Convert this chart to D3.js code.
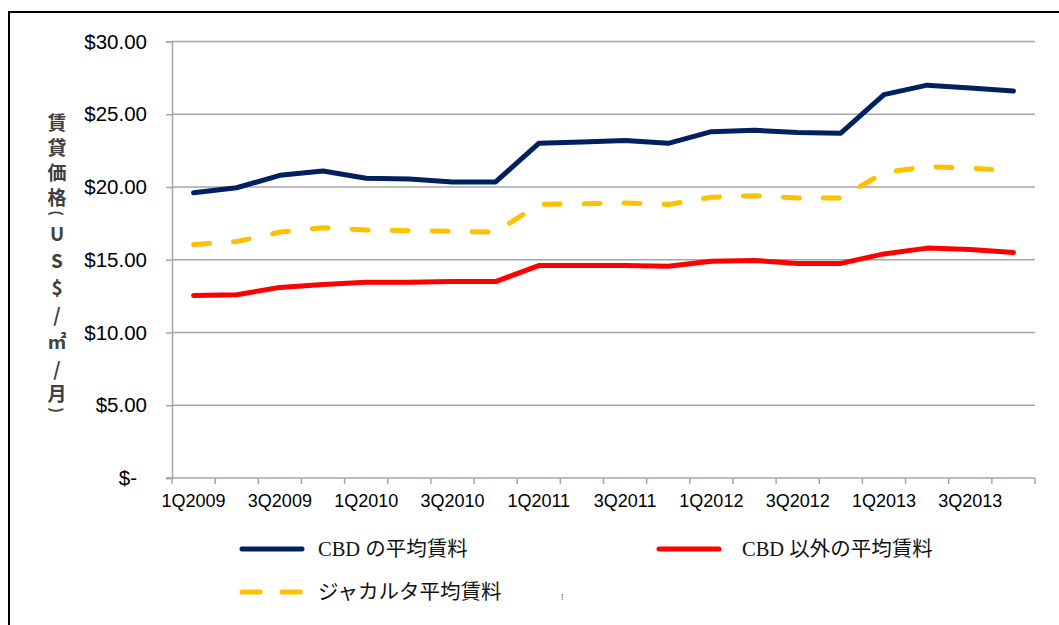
<!DOCTYPE html>
<html>
<head>
<meta charset="utf-8">
<script src="https://cdn.jsdelivr.net/npm/d3@7"></script>
<style>
  html, body { margin: 0; padding: 0; background: #fff; }
  svg { display: block; }
</style>
</head>
<body>
<svg id="chart" width="1059" height="625"></svg>
<script>
const quarters = [
  '1Q2009', '2Q2009', '3Q2009', '4Q2009',
  '1Q2010', '2Q2010', '3Q2010', '4Q2010',
  '1Q2011', '2Q2011', '3Q2011', '4Q2011',
  '1Q2012', '2Q2012', '3Q2012', '4Q2012',
  '1Q2013', '2Q2013', '3Q2013', '4Q2013',
]
const cbdRent = [19.6, 19.95, 20.8, 21.1, 20.6, 20.55, 20.35, 20.35, 23.0, 23.1,
  23.2, 23.0, 23.8, 23.9, 23.75, 23.7, 26.35, 27.0, 26.8, 26.6]
const nonCbdRent = [12.55, 12.6, 13.1, 13.3, 13.45, 13.45, 13.5, 13.5, 14.6, 14.6,
  14.6, 14.55, 14.9, 14.95, 14.75, 14.75, 15.4, 15.8, 15.7, 15.5]
const jakartaRent = [16.05, 16.25, 16.9, 17.2, 17.05, 17.0, 16.95, 16.9, 18.8, 18.85,
  18.9, 18.8, 19.3, 19.4, 19.25, 19.25, 21.0, 21.4, 21.3, 21.1]
const yTicks = [0, 5, 10, 15, 20, 25, 30]
const yTitle = ['賃', '貸', '価', '格', '(', 'U', 'S', '$', '/', '㎡', '/', '月', ')']

const series = [
  { key: 'cbd', label: 'CBD の平均賃料', values: cbdRent, color: '#002060', dash: null },
  { key: 'noncbd', label: 'CBD 以外の平均賃料', values: nonCbdRent, color: '#ff0000', dash: null },
  { key: 'jakarta', label: 'ジャカルタ平均賃料', values: jakartaRent, color: '#ffc000', dash: '16 24' },
]

const marginLeft = 172
const marginTop = 41.5
const plotRight = 1035
const plotBottom = 478
const gridColor = '#a6a6a6'

const svg = d3.select('#chart')

// outer frame (top + left edges only visible)
svg.append('path')
  .attr('d', 'M9,625 V12 H1059')
  .attr('fill', 'none')
  .attr('stroke', '#000')
  .attr('stroke-width', 2)

const x = d3.scaleBand().domain(quarters).range([marginLeft, plotRight]).padding(0)
const y = d3.scaleLinear().domain([0, 30]).range([plotBottom, marginTop])

// gridlines
svg.append('g')
  .selectAll('line')
  .data(yTicks.filter((d) => d > 0))
  .join('line')
  .attr('x1', marginLeft)
  .attr('x2', plotRight)
  .attr('y1', (d) => y(d))
  .attr('y2', (d) => y(d))
  .attr('stroke', gridColor)
  .attr('stroke-width', 1.5)

// y axis
const yAxis = svg.append('g')
  .attr('transform', `translate(${marginLeft},0)`)
  .call(d3.axisLeft(y)
    .tickValues(yTicks)
    .tickSize(6)
    .tickPadding(19)
    .tickFormat((d) => (d === 0 ? '$-' : '$' + d.toFixed(2))))
yAxis.select('.domain').attr('stroke', gridColor).attr('stroke-width', 1.5)
yAxis.selectAll('.tick line').attr('stroke', gridColor).attr('stroke-width', 1.5)
yAxis.selectAll('.tick text')
  .attr('fill', '#000')
  .attr('font-family', '"Liberation Sans", Arial, sans-serif')
  .attr('font-size', 20.5)
  .attr('dx', (d) => (d === 0 ? -10 : 0))

// x axis: boundary ticks, labels on every other quarter
svg.append('line')
  .attr('x1', marginLeft - 6)
  .attr('x2', plotRight)
  .attr('y1', plotBottom)
  .attr('y2', plotBottom)
  .attr('stroke', gridColor)
  .attr('stroke-width', 1.5)

svg.append('g')
  .selectAll('line')
  .data(d3.range(quarters.length + 1))
  .join('line')
  .attr('x1', (i) => marginLeft + i * x.step())
  .attr('x2', (i) => marginLeft + i * x.step())
  .attr('y1', plotBottom)
  .attr('y2', plotBottom + 6)
  .attr('stroke', gridColor)
  .attr('stroke-width', 1.5)

svg.append('g')
  .selectAll('text')
  .data(quarters.filter((q, i) => i % 2 === 0))
  .join('text')
  .attr('x', (d) => x(d) + x.bandwidth() / 2)
  .attr('y', plotBottom + 29)
  .attr('text-anchor', 'middle')
  .attr('font-family', '"Liberation Sans", Arial, sans-serif')
  .attr('font-size', 18)
  .attr('fill', '#000')
  .text((d) => d)

// y title, stacked vertically; brackets turned sideways
const titlePos = [123, 148, 173, 198, 213, 234, 261, 288, 315, 342, 369, 394, 410]
svg.append('g')
  .selectAll('text')
  .data(yTitle)
  .join('text')
  .attr('transform', (d, i) => {
    const isParen = d === '(' || d === ')'
    return isParen
      ? `translate(57,${titlePos[i]}) rotate(90)`
      : `translate(57,${titlePos[i] + 7})`
  })
  .attr('text-anchor', 'middle')
  .attr('dominant-baseline', (d) => (d === '(' || d === ')' ? 'central' : null))
  .attr('font-family', '"Noto Sans CJK JP", "Liberation Sans", sans-serif')
  .attr('font-weight', 'bold')
  .attr('font-size', (d) => (d === '(' || d === ')' ? 15 : 19))
  .attr('fill', '#404040')
  .text((d) => d)

// lines
const line = (values) => d3.line()
  .x((d, i) => x(quarters[i]) + x.bandwidth() / 2)
  .y((d) => y(d))(values)

// draw red, yellow, then navy on top
;[series[1], series[2], series[0]].forEach((s) => {
  svg.append('path')
    .attr('d', line(s.values))
    .attr('fill', 'none')
    .attr('stroke', s.color)
    .attr('stroke-width', 5)
    .attr('stroke-linecap', 'round')
    .attr('stroke-linejoin', 'round')
    .attr('stroke-dasharray', s.dash)
})

// legend
const legendPos = [
  { x: 240, y: 549 },
  { x: 657, y: 549 },
  { x: 240, y: 592 },
]
const legend = svg.append('g')
  .selectAll('g')
  .data(series)
  .join('g')
  .attr('transform', (d, i) => `translate(${legendPos[i].x},${legendPos[i].y})`)

legend.append('line')
  .attr('x1', 2)
  .attr('x2', (d) => (d.dash ? 60 : 62))
  .attr('stroke', (d) => d.color)
  .attr('stroke-width', 5)
  .attr('stroke-linecap', 'round')
  .attr('stroke-dasharray', (d) => (d.dash ? '18 22' : null))

legend.append('text')
  .attr('x', (d, i) => (i === 1 ? 85 : 78))
  .attr('y', 7)
  .attr('font-family', '"Liberation Serif", "Times New Roman", "Noto Sans CJK JP", serif')
  .attr('font-size', 20.5)
  .attr('fill', '#111')
  .text((d) => d.label)

// stray mark next to the last legend entry
svg.append('text')
  .attr('x', 561)
  .attr('y', 600)
  .attr('font-family', '"Liberation Sans", sans-serif')
  .attr('font-size', 9)
  .attr('fill', '#555')
  .text('!')
</script>
</body>
</html>
